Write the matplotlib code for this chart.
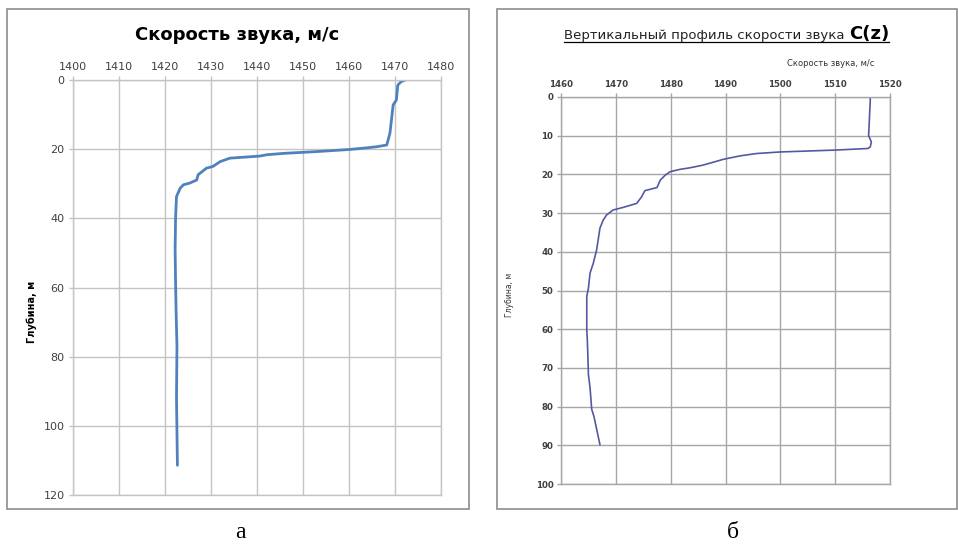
import matplotlib
matplotlib.use("Agg")
import matplotlib.pyplot as plt
from matplotlib.patches import Rectangle
from matplotlib.lines import Line2D

# ---- data: panel a ----
depth_a = [0, 0.5, 1.5, 5.8, 7.2, 15.4, 16.4, 18.8, 19.3, 19.6, 20.1, 20.7, 21.2,
           21.6, 22.0, 22.6, 23.6, 25.0, 25.5, 27.4, 28.9, 29.8, 30.3, 31.3, 33.7,
           39.8, 49.0, 58.6, 66.0, 77.0, 92.0, 111.4]
speed_a = [1472.2, 1471.3, 1470.6, 1470.3, 1469.6, 1468.9, 1468.7, 1468.2, 1466.0,
           1464.0, 1460.0, 1453.0, 1446.0, 1442.2, 1440.6, 1434.1, 1432.0, 1430.4,
           1429.0, 1427.2, 1426.9, 1425.4, 1424.0, 1423.3, 1422.5, 1422.3, 1422.2,
           1422.3, 1422.4, 1422.6, 1422.5, 1422.7]

# ---- data: panel b ----
depth_b = [0, 0.9, 10.0, 11.6, 12.9, 13.3, 13.7, 14.2, 14.6, 15.2, 16.1, 16.6, 17.6,
           18.3, 18.7, 19.3, 20.2, 21.5, 23.4, 24.2, 25.8, 27.5, 28.5, 29.2, 30.5,
           31.8, 33.9, 39.5, 42.9, 45.5, 49.4, 51.5, 60.1, 62.7, 67.0, 71.7, 75.2,
           80.7, 82.5, 89.8]
speed_b = [1516.4, 1516.4, 1516.1, 1516.6, 1516.4, 1516.0, 1510.3, 1500.0, 1495.7,
           1492.7, 1489.6, 1488.4, 1485.9, 1483.5, 1481.7, 1479.9, 1479.0, 1478.1,
           1477.5, 1475.3, 1474.7, 1473.8, 1471.4, 1469.5, 1468.3, 1467.7, 1467.1,
           1466.5, 1465.9, 1465.3, 1465.0, 1464.7, 1464.7, 1464.8, 1464.9, 1465.0,
           1465.3, 1465.6, 1466.0, 1467.1]

xticks_a = [1400, 1410, 1420, 1430, 1440, 1450, 1460, 1470, 1480]
yticks_a = [0, 20, 40, 60, 80, 100, 120]
xticks_b = [1460, 1470, 1480, 1490, 1500, 1510, 1520]
yticks_b = [0, 10, 20, 30, 40, 50, 60, 70, 80, 90, 100]

W, H = 958, 546
fig = plt.figure(figsize=(W / 100, H / 100), dpi=100)
fig.patch.set_facecolor("white")


def fx(px):
    return px / W


def fy(py):
    return 1 - py / H


def frame(x0, y0, x1, y1, color):
    fig.add_artist(Rectangle((fx(x0), fy(y1)), fx(x1) - fx(x0), fy(y0) - fy(y1),
                             transform=fig.transFigure, fill=False,
                             edgecolor=color, linewidth=1.2))


frame(7, 9, 469, 509, "#8c8c8c")
frame(497, 9, 957, 509, "#8c8c8c")

# ---- panel a ----
ax1 = fig.add_axes([fx(73), fy(495), fx(441) - fx(73), fy(80) - fy(495)])
ax1.plot(speed_a, depth_a, color="#4f81bd", linewidth=2.0, solid_capstyle="round")
ax1.set_xlim(1400, 1480)
ax1.set_ylim(120, 0)
ax1.set_xticks(xticks_a)
ax1.set_yticks(yticks_a)
ax1.xaxis.tick_top()
ax1.grid(True, color="#c4c4c4", linewidth=1.0)
ax1.set_axisbelow(True)
for s in ax1.spines.values():
    s.set_color("#c4c4c4")
    s.set_linewidth(1.0)
ax1.tick_params(axis="both", colors="#c4c4c4", length=3, width=1.0,
                labelcolor="#404040", labelsize=8)
ax1.tick_params(axis="x", pad=3)
ax1.tick_params(axis="y", pad=3)
fig.text(fx(237), fy(35), "Скорость звука, м/с", ha="center", va="center",
         fontsize=13, fontweight="bold", color="#000000")
fig.text(fx(32), fy(312), "Глубина, м", ha="center", va="center", rotation=90,
         fontsize=7, fontweight="bold", color="#000000")

# ---- panel b ----
ax2 = fig.add_axes([fx(561), fy(484), fx(890) - fx(561), fy(97) - fy(484)])
ax2.plot(speed_b, depth_b, color="#5558a3", linewidth=1.2)
ax2.set_xlim(1460, 1520)
ax2.set_ylim(100, 0)
ax2.set_xticks(xticks_b)
ax2.set_yticks(yticks_b)
ax2.xaxis.tick_top()
ax2.grid(True, color="#a6a6a6", linewidth=1.0)
ax2.set_axisbelow(True)
for s in ax2.spines.values():
    s.set_color("#a6a6a6")
    s.set_linewidth(1.0)
ax2.tick_params(axis="both", colors="#a6a6a6", length=3, width=1.0,
                labelcolor="#404040", labelsize=6.2)
for lab in ax2.get_xticklabels() + ax2.get_yticklabels():
    lab.set_fontweight("bold")
ax2.tick_params(axis="x", pad=3)
ax2.tick_params(axis="y", pad=2.5)

t1 = fig.text(fx(849), fy(39), "Вертикальный профиль скорости звука ", ha="right",
              va="baseline", fontsize=9.5, color="#222222")
t2 = fig.text(fx(849), fy(39), "C(z)", ha="left", va="baseline", fontsize=13,
              fontweight="bold", color="#000000")
fig.text(fx(831), fy(64), "Скорость звука, м/с", ha="center", va="center",
         fontsize=6, color="#333333")
fig.text(fx(510), fy(295), "Глубина, м", ha="center", va="center", rotation=90,
         fontsize=5.5, color="#333333")

# underline for panel b title
fig.canvas.draw()
r = fig.canvas.get_renderer()
b1 = t1.get_window_extent(r)
b2 = t2.get_window_extent(r)
ybase = fy(42)
fig.add_artist(Line2D([b1.x0 / W, b2.x1 / W], [ybase, ybase], transform=fig.transFigure,
                      color="#000000", linewidth=0.9))

# captions
fig.text(fx(240), fy(533), "а", ha="center", va="center", fontsize=17,
         family="Liberation Serif")
fig.text(fx(733), fy(533), "б", ha="center", va="center", fontsize=17,
         family="Liberation Serif")

fig.savefig("out.png", dpi=100)
